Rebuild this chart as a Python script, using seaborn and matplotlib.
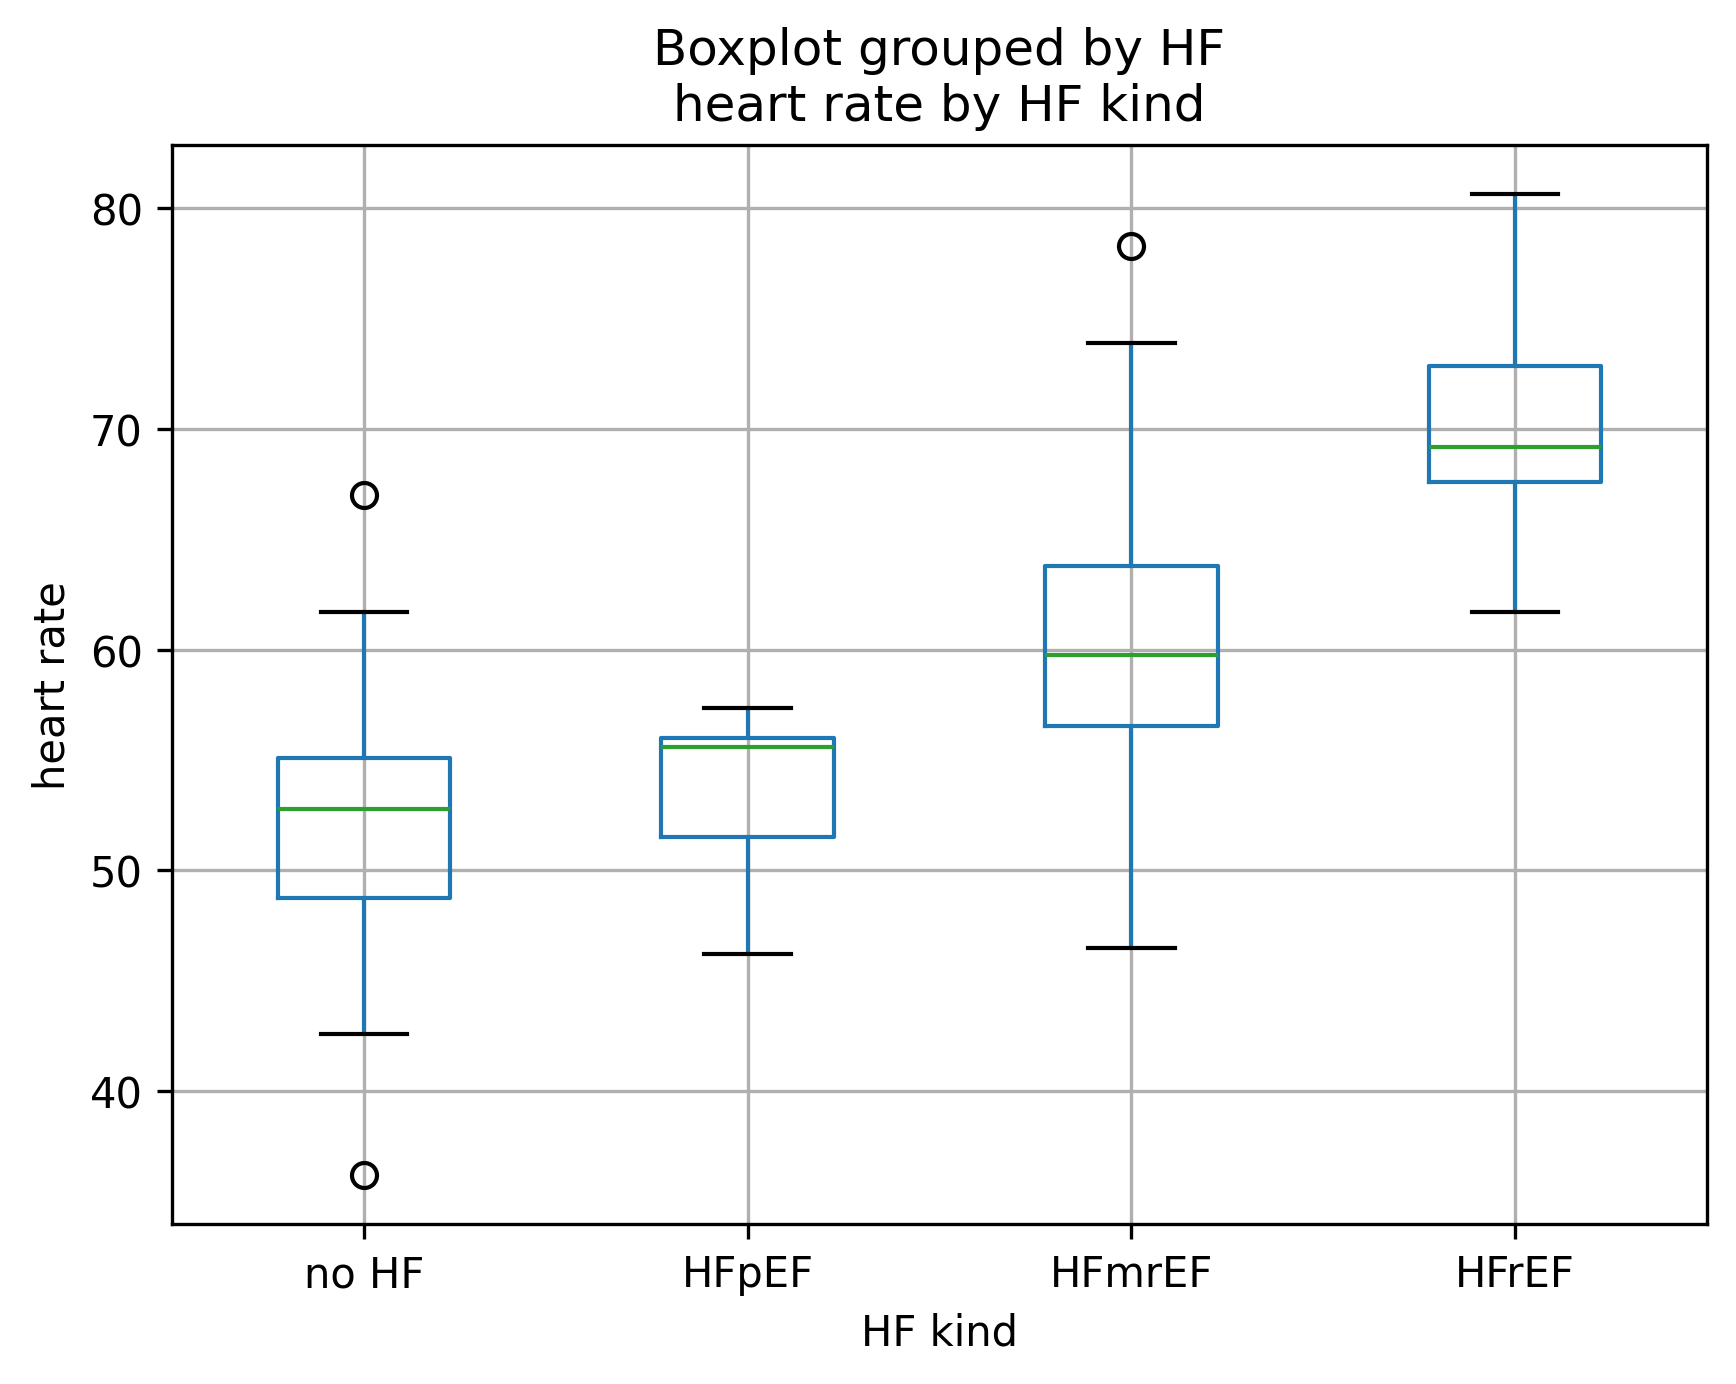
import pandas as pd
import matplotlib
matplotlib.use("Agg")
import matplotlib.pyplot as plt
import seaborn as sns

# ------------------------------------------------------------------
# DATA
# ------------------------------------------------------------------
kinds = ["no HF", "HFpEF", "HFmrEF", "HFrEF"]

hr_no_hf  = [36.2, 42.6, 48.75, 48.75, 52.8, 55.1, 55.1, 61.7, 67.0]
hr_hfpef  = [46.2, 51.5, 55.6, 56.0, 57.35]
hr_hfmref = [46.5, 56.55, 56.55, 59.75, 59.75, 63.8, 63.8, 73.9, 78.3]
hr_hfref  = [61.7, 67.6, 69.2, 72.85, 80.65]

groups = [hr_no_hf, hr_hfpef, hr_hfmref, hr_hfref]
df = pd.DataFrame({
    "HF kind": [k for k, g in zip(kinds, groups) for _ in g],
    "heart rate": [v for g in groups for v in g],
})

# ------------------------------------------------------------------
# PLOT
# ------------------------------------------------------------------
plt.rcParams.update({"font.family": ["DejaVu Sans"], "font.size": 10})

fig = plt.figure(figsize=(1736 / 300, 1385 / 300), dpi=300)
ax = fig.add_axes([172 / 1736, 1 - 1225 / 1385, (1707 - 172) / 1736, (1225 - 146) / 1385])

sns.boxplot(data=df, x="HF kind", y="heart rate", order=kinds, ax=ax,
            fill=False, width=0.45, whis=1.5, linewidth=1.0,
            color="#1f77b4", linecolor="#1f77b4",
            boxprops=dict(color="#1f77b4", linewidth=1.0),
            whiskerprops=dict(color="#1f77b4", linewidth=1.0),
            medianprops=dict(color="#2ca02c", linewidth=1.0),
            capprops=dict(color="black", linewidth=1.0),
            flierprops=dict(marker="o", markerfacecolor="none",
                            markeredgecolor="black", markersize=6))

ax.grid(True, color="#b0b0b0", linewidth=0.8)
ax.set_axisbelow("line")
ax.set_title("Boxplot grouped by HF\nheart rate by HF kind", fontsize=12)
ax.set_xlabel("HF kind")
ax.set_ylabel("heart rate")
for s in ax.spines.values():
    s.set_visible(True)
    s.set_color("black")
    s.set_linewidth(0.8)

fig.savefig("out.png", dpi=300)
